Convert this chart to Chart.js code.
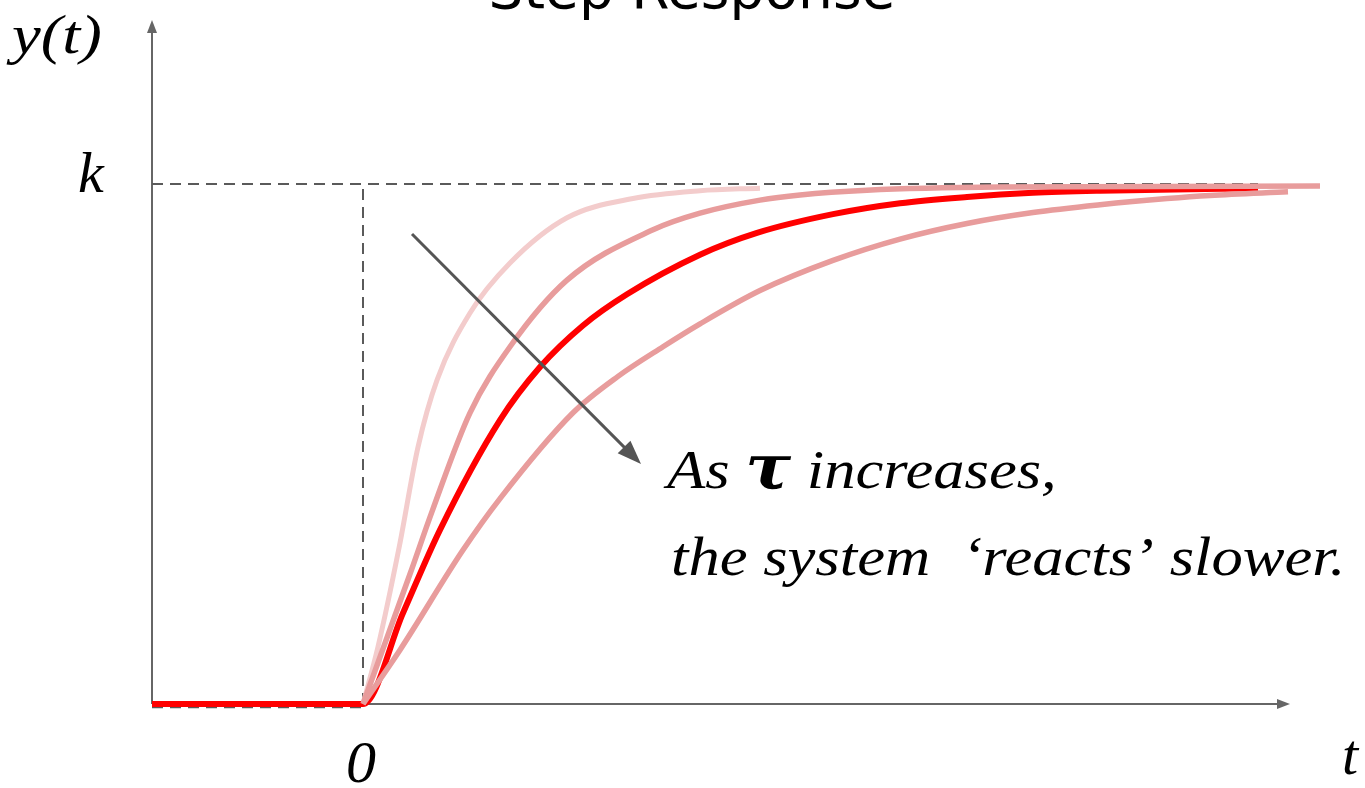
<!DOCTYPE html>
<html>
<head>
<meta charset="utf-8">
<title>Step Response</title>
<script src="https://cdn.jsdelivr.net/npm/chart.js@4/dist/chart.umd.min.js"></script>
<style>
    html, body { margin: 0; padding: 0; background: #fff; overflow: hidden; }
    #wrap { width: 1365px; height: 788px; }
</style>
</head>
<body>
<div id="wrap"><canvas id="stepChart" width="1365" height="788"></canvas></div>
<script>
// Step response of first order systems, y normalised to k = 1
// t is in arbitrary time units, 0 = moment of the step

const tStart = -2.11;   // where the input line starts
const tAxisEnd = 9.27;  // tip of the time axis arrow

// fastest (smallest tau), drawn very light
const fastT = [0, 0.15, 0.36, 0.55, 0.74, 1.07, 1.47, 2.04, 2.70, 3.37, 3.97];
const fastY = [0, 0.11, 0.30, 0.494, 0.623, 0.752, 0.848, 0.935, 0.972, 0.987, 0.992];

// second curve
const midT = [0, 0.47, 0.69, 1.07, 1.47, 2.04, 2.90, 3.37, 3.97, 4.37, 5.04, 6.37, 9.57];
const midY = [0, 0.25, 0.37, 0.56, 0.687, 0.815, 0.912, 0.944, 0.969, 0.979, 0.988, 0.994, 0.996];

// reference curve (bright red), including the flat part before the step
const refT = [tStart, 0, 0.40, 0.77, 1.37, 1.77, 2.20, 2.64, 3.37, 3.94, 4.70, 5.37, 6.04, 6.70, 7.37, 8.95];
const refY = [0, 0, 0.175, 0.335, 0.546, 0.648, 0.728, 0.788, 0.864, 0.906, 0.942, 0.963, 0.975, 0.983, 0.987, 0.992];

// slowest (largest tau)
const slowT = [0, 0.37, 1.00, 1.37, 2.10, 2.55, 3.00, 3.37, 3.97, 4.70, 5.37, 6.04, 6.70, 7.37, 8.04, 8.47, 9.25];
const slowY = [0, 0.104, 0.296, 0.395, 0.56, 0.63, 0.687, 0.731, 0.795, 0.853, 0.894, 0.924, 0.945, 0.96, 0.972, 0.978, 0.985];

const kValue = 1;
const kLineEnd = 8.95;

const toPoints = (ts, ys) => ts.map((t, i) => ({ x: t, y: ys[i] }));

const curveStyle = (color, width, order) => ({
    borderColor: color,
    borderWidth: width,
    pointRadius: 0,
    fill: false,
    cubicInterpolationMode: 'monotone',
    borderCapStyle: 'butt',
    order: order
});

const dashStyle = {
    borderColor: '#5a5a5a',
    borderWidth: 2,
    borderDash: [11, 7],
    pointRadius: 0,
    fill: false,
    tension: 0,
    order: 10
};

// draw text stretched horizontally like the original slide
function wideText(ctx, str, x, y, sx) {
    ctx.save();
    ctx.translate(x, y);
    ctx.scale(sx, 1);
    ctx.fillText(str, 0, 0);
    ctx.restore();
    return ctx.measureText(str).width * sx;
}

// axes, arrows and the italic labels
const decorations = {
    id: 'decorations',
    beforeDatasetsDraw(chart) {
        const ctx = chart.ctx;
        const xs = chart.scales.x;
        const ys = chart.scales.y;
        const x0 = xs.getPixelForValue(tStart);
        const y0 = ys.getPixelForValue(0);
        const xEnd = xs.getPixelForValue(tAxisEnd);
        const yTop = 20;

        ctx.save();
        ctx.strokeStyle = '#666666';
        ctx.fillStyle = '#666666';
        ctx.lineWidth = 2;
        ctx.beginPath();
        ctx.moveTo(x0, y0);
        ctx.lineTo(x0, yTop + 10);
        ctx.moveTo(x0, y0);
        ctx.lineTo(xEnd - 10, y0);
        ctx.stroke();
        // arrow heads
        ctx.beginPath();
        ctx.moveTo(x0, yTop);
        ctx.lineTo(x0 - 5, yTop + 13);
        ctx.lineTo(x0 + 5, yTop + 13);
        ctx.closePath();
        ctx.fill();
        ctx.beginPath();
        ctx.moveTo(xEnd, y0);
        ctx.lineTo(xEnd - 13, y0 - 5);
        ctx.lineTo(xEnd - 13, y0 + 5);
        ctx.closePath();
        ctx.fill();
        ctx.restore();
    },
    afterDatasetsDraw(chart) {
        const ctx = chart.ctx;
        const xs = chart.scales.x;
        const ys = chart.scales.y;

        ctx.save();
        // title, mostly cut off at the top
        ctx.fillStyle = '#000';
        ctx.font = '55px "DejaVu Sans"';
        ctx.textAlign = 'center';
        ctx.textBaseline = 'alphabetic';
        ctx.fillText('Step Response', 692, 8);

        // tau arrow
        const ax1 = 412, ay1 = 234, ax2 = 641, ay2 = 464;
        const ang = Math.atan2(ay2 - ay1, ax2 - ax1);
        ctx.strokeStyle = '#555555';
        ctx.fillStyle = '#555555';
        ctx.lineWidth = 3;
        ctx.beginPath();
        ctx.moveTo(ax1, ay1);
        ctx.lineTo(ax2 - 14 * Math.cos(ang), ay2 - 14 * Math.sin(ang));
        ctx.stroke();
        ctx.beginPath();
        ctx.moveTo(ax2, ay2);
        ctx.lineTo(ax2 - 24 * Math.cos(ang) + 9 * Math.sin(ang), ay2 - 24 * Math.sin(ang) - 9 * Math.cos(ang));
        ctx.lineTo(ax2 - 24 * Math.cos(ang) - 9 * Math.sin(ang), ay2 - 24 * Math.sin(ang) + 9 * Math.cos(ang));
        ctx.closePath();
        ctx.fill();

        // axis labels
        ctx.fillStyle = '#000';
        ctx.textAlign = 'left';
        ctx.font = 'italic 54px "Liberation Serif"';
        wideText(ctx, 'y(t)', 12, 53, 1.2);
        ctx.font = 'italic 58px "Liberation Serif"';
        ctx.fillText('k', 78, ys.getPixelForValue(kValue) + 8);
        ctx.textAlign = 'center';
        ctx.font = 'italic 60px "Liberation Serif"';
        ctx.fillText('0', xs.getPixelForValue(0) - 2, 782);
        ctx.font = 'italic 58px "Liberation Serif"';
        ctx.fillText('t', 1350, 774);

        // annotation
        ctx.textAlign = 'left';
        const fnt = 'italic 54px "Liberation Serif"';
        const sx = 1.16;
        let x = 667;
        ctx.font = fnt;
        x += wideText(ctx, 'As ', x, 488, sx);
        ctx.font = 'italic bold 62px "DejaVu Serif"';
        x += wideText(ctx, '\u03C4', x, 488, 1.1);
        ctx.font = fnt;
        wideText(ctx, ' increases,', x, 488, sx);
        wideText(ctx, 'the system  \u2018reacts\u2019 slower.', 671, 575, sx);
        ctx.restore();
    }
};

new Chart(document.getElementById('stepChart'), {
    type: 'line',
    data: {
        datasets: [
            Object.assign({ data: toPoints(fastT, fastY) }, curveStyle('#f3cccc', 5, 4)),
            Object.assign({ data: toPoints(midT, midY) }, curveStyle('#e89c9c', 5.5, 2)),
            Object.assign({ data: toPoints(refT, refY) }, curveStyle('#ff0000', 6, 3)),
            Object.assign({ data: toPoints(slowT, slowY) }, curveStyle('#e89c9c', 5.5, 1)),
            Object.assign({ data: [{ x: tStart, y: kValue }, { x: kLineEnd, y: kValue }] }, dashStyle),
            Object.assign({ data: [{ x: 0, y: 0 }, { x: 0, y: kValue }] }, dashStyle),
            Object.assign({ data: [{ x: tStart, y: -0.006 }, { x: 0, y: -0.006 }] }, dashStyle)
        ]
    },
    options: {
        responsive: false,
        animation: false,
        devicePixelRatio: 1,
        layout: { padding: 0 },
        plugins: {
            legend: { display: false },
            tooltip: { enabled: false },
            title: { display: false }
        },
        scales: {
            x: { type: 'linear', min: -3.63, max: 10.02, display: false },
            y: { type: 'linear', min: -0.1615, max: 1.3538, display: false }
        }
    },
    plugins: [decorations]
});
</script>
</body>
</html>
